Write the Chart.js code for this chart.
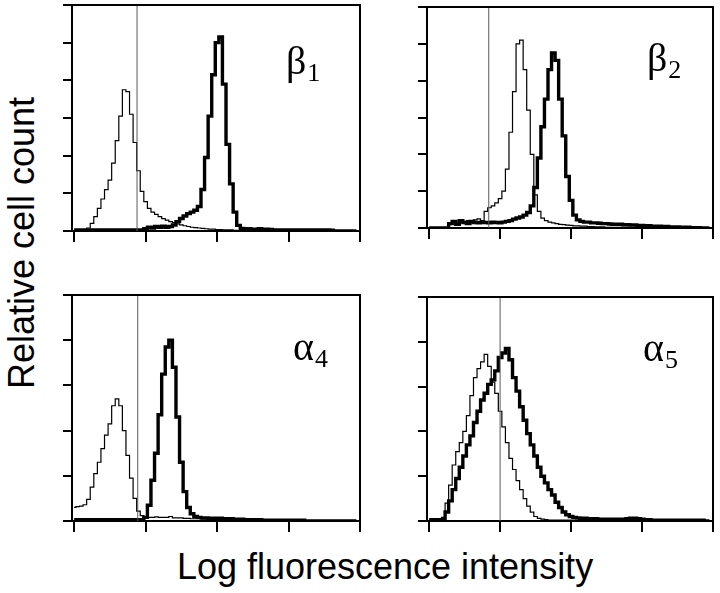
<!DOCTYPE html>
<html>
<head>
<meta charset="utf-8">
<script src="https://cdn.jsdelivr.net/npm/chart.js@4/dist/chart.umd.min.js"></script>
<style>
  body { margin: 0; background: #fff; }
  #page { position: relative; width: 720px; height: 593px; overflow: hidden; background: #fff; }
  .panel { position: absolute; }
  .axis-title {
    position: absolute;
    font-family: 'Liberation Sans', Arial, sans-serif;
    font-size: 36px;
    line-height: 36px;
    white-space: nowrap;
    color: #000;
  }
  #ytitle { left: 22px; top: 243px; transform: translate(-50%, -50%) rotate(-90deg); }
  #xtitle { left: 385px; top: 567px; transform: translate(-50%, -50%); }
</style>
</head>
<body>
<div id="page">
  <canvas id="panel-b1" class="panel"></canvas>
  <canvas id="panel-b2" class="panel"></canvas>
  <canvas id="panel-a4" class="panel"></canvas>
  <canvas id="panel-a5" class="panel"></canvas>
  <div class="axis-title" id="ytitle">Relative cell count</div>
  <div class="axis-title" id="xtitle">Log fluorescence intensity</div>
</div>
<script>
// Histogram bins are 0.05 log decades wide, starting at 0 (80 bins over 4 decades)
const binStep = 0.05;
const xTicks = [0, 1, 2, 3, 4];

// thin line = control staining, thick line = integrin antibody
const beta1Control = [
  0, 0, 0, 0.02, 0.08, 0.2, 0.38, 0.6, 0.85, 1.1,
  1.35, 1.8, 2.4, 3.05, 3.75, 3.7, 3.1, 2.35, 1.6, 1.05,
  0.78, 0.6, 0.5, 0.44, 0.38, 0.33, 0.29, 0.25, 0.22, 0.19,
  0.16, 0.14, 0.12, 0.1, 0.09, 0.08, 0.07, 0.06, 0.05, 0.05,
  0.04, 0.04, 0.03, 0.03, 0.03, 0.02, 0.02, 0.02, 0.02, 0.02,
  0, 0, 0, 0, 0, 0, 0, 0, 0, 0,
  0, 0, 0, 0, 0, 0, 0, 0, 0, 0,
  0, 0, 0, 0, 0, 0, 0, 0, 0, 0
];
const beta1Stained = [
  0.03, 0.03, 0.03, 0.03, 0.03, 0.03, 0.03, 0.03, 0.03, 0.03,
  0.03, 0.03, 0.03, 0.03, 0.03, 0.03, 0.03, 0.03, 0.03, 0.03,
  0.06, 0.1, 0.08, 0.12, 0.1, 0.13, 0.1, 0.12, 0.16, 0.25,
  0.33, 0.4, 0.46, 0.5, 0.55, 0.65, 1.1, 1.95, 3.05, 4.15,
  5.0, 5.15, 3.9, 2.3, 1.25, 0.5, 0.15, 0.07, 0.05, 0.06,
  0.04, 0.05, 0.06, 0.04, 0.05, 0.04, 0.03, 0.03, 0.03, 0.03,
  0.03, 0.03, 0.03, 0.03, 0.03, 0.03, 0.03, 0.03, 0.03, 0.03,
  0.03, 0.03, 0.02, 0, 0, 0, 0, 0, 0, 0
];

const beta2Control = [
  0, 0, 0, 0, 0, 0, 0.1, 0.15, 0.12, 0.18,
  0.15, 0.2, 0.18, 0.22, 0.25, 0.2, 0.45, 0.55, 0.6, 0.68,
  0.8, 1.0, 1.6, 2.6, 3.7, 5.0, 5.1, 4.3, 3.2, 2.0,
  0.9, 0.45, 0.27, 0.2, 0.16, 0.14, 0.12, 0.1, 0.09, 0.08,
  0.07, 0.06, 0.06, 0.05, 0.05, 0.04, 0.04, 0.03, 0.03, 0.03,
  0.02, 0.02, 0.02, 0.02, 0.02, 0.02, 0.02, 0.02, 0.02, 0.02,
  0, 0, 0, 0, 0, 0, 0, 0, 0, 0,
  0, 0, 0, 0, 0, 0, 0, 0, 0, 0
];
const beta2Stained = [
  0, 0, 0, 0, 0, 0, 0.12, 0.18, 0.1, 0.2,
  0.15, 0.12, 0.18, 0.15, 0.14, 0.16, 0.15, 0.14, 0.16, 0.15,
  0.14, 0.16, 0.18, 0.2, 0.24, 0.27, 0.3, 0.35, 0.42, 0.6,
  1.1, 1.9, 2.75, 3.5, 4.3, 4.75, 4.55, 3.5, 2.5, 1.4,
  0.75, 0.35, 0.22, 0.18, 0.16, 0.16, 0.14, 0.14, 0.13, 0.12,
  0.12, 0.11, 0.1, 0.1, 0.1, 0.09, 0.09, 0.08, 0.08, 0.07,
  0.07, 0.06, 0.06, 0.05, 0.05, 0.05, 0.04, 0.04, 0.03, 0.03,
  0.03, 0.02, 0.02, 0.02, 0.01, 0.01, 0.01, 0, 0, 0
];

const alpha4Control = [
  0.3, 0.32, 0.33, 0.36, 0.48, 0.75, 1.05, 1.3, 1.6, 1.9,
  2.15, 2.55, 2.7, 2.55, 2.0, 1.45, 0.95, 0.5, 0.22, 0.12,
  0.09, 0.08, 0.08, 0.09, 0.08, 0.08, 0.08, 0.1, 0.07, 0.07,
  0.07, 0.06, 0.06, 0.05, 0.05, 0.05, 0.04, 0.04, 0.04, 0.03,
  0.03, 0.03, 0.03, 0.03, 0.03, 0.03, 0.03, 0.03, 0.03, 0.03,
  0.02, 0.02, 0.02, 0.02, 0.02, 0.02, 0.02, 0.02, 0.02, 0.02,
  0.02, 0.02, 0.02, 0.02, 0.02, 0, 0, 0, 0, 0,
  0, 0, 0, 0, 0, 0, 0, 0, 0, 0
];
const alpha4Stained = [
  0.03, 0.03, 0.03, 0.03, 0.03, 0.03, 0.03, 0.03, 0.03, 0.03,
  0.03, 0.03, 0.03, 0.03, 0.03, 0.03, 0.03, 0.03, 0.03, 0.03,
  0.08, 0.35, 0.9, 1.5, 2.35, 3.25, 3.85, 4.0, 3.4, 2.3,
  1.3, 0.65, 0.3, 0.16, 0.1, 0.08, 0.07, 0.07, 0.06, 0.06,
  0.06, 0.06, 0.05, 0.05, 0.05, 0.04, 0.04, 0.04, 0.03, 0.03,
  0.03, 0.03, 0.03, 0.02, 0.02, 0.02, 0.02, 0.02, 0.02, 0.02,
  0.02, 0.02, 0.02, 0.02, 0.02, 0, 0, 0, 0, 0,
  0, 0, 0, 0, 0, 0, 0, 0, 0, 0
];

const alpha5Control = [
  0.02, 0.02, 0.02, 0.02, 0.08, 0.4, 0.8, 1.25, 1.55, 1.75,
  2.0, 2.35, 2.8, 3.2, 3.4, 3.55, 3.72, 3.45, 3.1, 2.85,
  2.45, 2.1, 1.75, 1.4, 1.15, 0.9, 0.7, 0.5, 0.33, 0.2,
  0.1, 0.06, 0.04, 0.03, 0.02, 0.02, 0.02, 0.02, 0.02, 0.02,
  0.02, 0.02, 0.02, 0.02, 0.02, 0, 0, 0, 0, 0,
  0, 0, 0, 0, 0, 0, 0, 0, 0, 0,
  0, 0, 0, 0, 0, 0, 0, 0, 0, 0,
  0, 0, 0, 0, 0, 0, 0, 0, 0, 0
];
const alpha5Stained = [
  0.03, 0.03, 0.03, 0.03, 0.03, 0.2, 0.45, 0.7, 0.95, 1.2,
  1.45, 1.7, 1.9, 2.2, 2.45, 2.7, 2.85, 3.05, 3.15, 3.35,
  3.65, 3.75, 3.85, 3.6, 3.2, 2.9, 2.55, 2.25, 1.95, 1.7,
  1.45, 1.2, 1.0, 0.85, 0.7, 0.58, 0.42, 0.3, 0.2, 0.14,
  0.1, 0.08, 0.07, 0.06, 0.06, 0.05, 0.05, 0.05, 0.04, 0.04,
  0.04, 0.04, 0.04, 0.04, 0.04, 0.04, 0.05, 0.06, 0.06, 0.05,
  0.04, 0.03, 0.03, 0.02, 0.02, 0.02, 0.02, 0.02, 0.02, 0.02,
  0.02, 0.02, 0.02, 0.02, 0.02, 0.02, 0.02, 0.02, 0, 0
];

// gray marker line (control cut-off) per panel, in log decades
const markerX = [0.88, 0.84, 0.89, 1.0];
const yMax = [6, 6, 5, 5];
const panelLabels = [['β', '1'], ['β', '2'], ['α', '4'], ['α', '5']];

// where each plot box sits on the page: left, top, right, bottom
const panels = [
  { id: 'panel-b1', area: [72, 5, 360, 231], control: beta1Control, stained: beta1Stained, labelPos: [-74, 69] },
  { id: 'panel-b2', area: [427, 7, 713, 228], control: beta2Control, stained: beta2Stained, labelPos: [-66, 64] },
  { id: 'panel-a4', area: [72, 295, 360, 521], control: alpha4Control, stained: alpha4Stained, labelPos: [-67, 65] },
  { id: 'panel-a5', area: [427, 297, 713, 521], control: alpha5Control, stained: alpha5Stained, labelPos: [-70, 64] }
];

function toPoints(values) {
  return values.map((v, i) => ({ x: i * binStep, y: v }));
}

// draws top + right edges of the plot box and the greek panel label
const frameAndLabel = {
  id: 'frameAndLabel',
  afterDraw(chart, args, opts) {
    const { ctx, chartArea: a } = chart;
    ctx.save();
    ctx.strokeStyle = '#000';
    ctx.lineWidth = 2;
    ctx.beginPath();
    ctx.moveTo(a.left, a.top);
    ctx.lineTo(a.right, a.top);
    ctx.lineTo(a.right, a.bottom);
    ctx.stroke();

    const x = a.right + opts.pos[0];
    const y = a.top + opts.pos[1];
    ctx.fillStyle = '#000';
    ctx.textBaseline = 'alphabetic';
    ctx.font = "40px 'Liberation Serif', 'Times New Roman', serif";
    ctx.fillText(opts.label[0], x, y);
    const w = ctx.measureText(opts.label[0]).width;
    ctx.font = "26px 'Liberation Serif', 'Times New Roman', serif";
    ctx.fillText(opts.label[1], x + w + 1, y + 7);
    ctx.restore();
  }
};

function makePanel(p, idx) {
  const yAxisW = 10, xAxisH = 12, pad = 4;
  const [left, top, right, bottom] = p.area;
  const canvas = document.getElementById(p.id);
  const w = right - left + yAxisW + 2 * pad;
  const h = bottom - top + xAxisH + pad;
  canvas.width = w;
  canvas.height = h;
  canvas.style.width = w + 'px';
  canvas.style.height = h + 'px';
  canvas.style.left = (left - yAxisW - pad) + 'px';
  canvas.style.top = (top - pad) + 'px';

  const ymax = yMax[idx];
  const m = markerX[idx];

  new Chart(canvas.getContext('2d'), {
    type: 'line',
    data: {
      datasets: [
        { data: [{ x: m, y: 0 }, { x: m, y: ymax }], borderColor: '#5a5a5a', borderWidth: 1 },
        { data: toPoints(p.control), borderColor: '#000', borderWidth: 1.2, stepped: 'middle' },
        { data: toPoints(p.stained), borderColor: '#000', borderWidth: 3.4, stepped: 'middle' }
      ]
    },
    options: {
      responsive: false,
      animation: false,
      devicePixelRatio: 1,
      layout: { padding: { left: pad, top: pad, right: pad, bottom: 0 } },
      elements: { point: { radius: 0 }, line: { fill: false, tension: 0 } },
      scales: {
        x: {
          type: 'linear',
          min: -0.03,
          max: 4,
          afterBuildTicks: s => { s.ticks = xTicks.map(v => ({ value: v })); },
          afterFit: s => { s.height = xAxisH; },
          ticks: { display: false },
          grid: { drawOnChartArea: false, drawTicks: true, tickLength: 11, color: '#000', lineWidth: 2 },
          border: { display: true, color: '#000', width: 2 }
        },
        y: {
          min: 0,
          max: ymax,
          afterFit: s => { s.width = yAxisW; },
          ticks: { display: false, stepSize: 1 },
          grid: { drawOnChartArea: false, drawTicks: true, tickLength: 9, color: '#000', lineWidth: 2 },
          border: { display: true, color: '#000', width: 2 }
        }
      },
      plugins: {
        legend: { display: false },
        tooltip: { enabled: false },
        frameAndLabel: { label: panelLabels[idx], pos: p.labelPos }
      }
    },
    plugins: [frameAndLabel]
  });
}

panels.forEach(makePanel);
</script>
</body>
</html>
